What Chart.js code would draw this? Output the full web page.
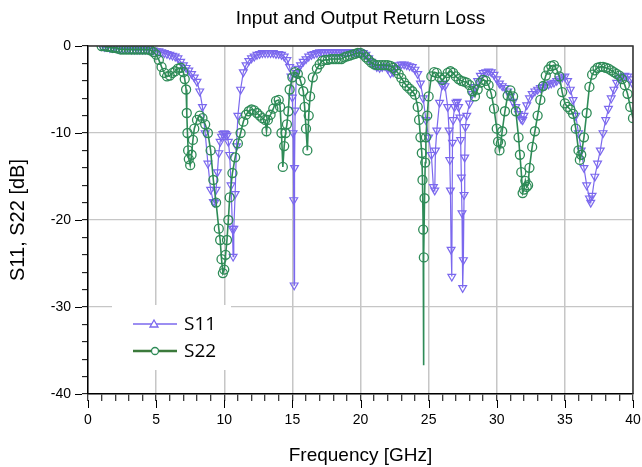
<!DOCTYPE html>
<html>
<head>
<meta charset="utf-8">
<script src="https://cdn.jsdelivr.net/npm/chart.js@4.4.1/dist/chart.umd.min.js"></script>
<style>
  html, body { margin: 0; padding: 0; background: #fff; }
  #wrap { width: 642px; height: 467px; }
</style>
</head>
<body>
<div id="wrap"><canvas id="chart1" width="642" height="467"></canvas></div>
<script>
// frequency [GHz] and return loss [dB]
const s11Freq = [
  1.0,1.2,1.4,1.6,1.8,2.0,2.2,2.4,2.6,2.8,
  3.0,3.2,3.4,3.6,3.8,4.0,4.2,4.4,4.6,4.8,
  5.0,5.2,5.4,5.6,5.8,6.0,6.2,6.4,6.6,6.8,
  7.0,7.2,7.4,7.6,7.8,8.0,8.2,8.4,8.6,8.8,
  9.0,9.2,9.3,9.4,9.5,9.6,9.7,9.8,9.9,10.0,
  10.1,10.2,10.3,10.4,10.5,10.6,10.65,10.7,10.8,10.9,
  11.0,11.2,11.4,11.6,11.8,12.0,12.2,12.4,12.6,12.8,
  13.0,13.2,13.4,13.6,13.8,14.0,14.2,14.4,14.6,14.8,
  14.9,15.0,15.05,15.1,15.13,15.16,15.2,15.3,15.4,15.6,
  15.8,16.0,16.2,16.4,16.6,16.8,17.0,17.2,17.4,17.6,
  17.8,18.0,18.2,18.4,18.6,18.8,19.0,19.2,19.4,19.6,
  19.8,20.0,20.2,20.4,20.6,20.8,21.0,21.2,21.4,21.6,
  21.8,22.0,22.2,22.4,22.6,22.8,23.0,23.2,23.4,23.6,
  23.8,24.0,24.2,24.4,24.6,24.8,25.0,25.2,25.35,25.45,
  25.5,25.6,25.8,26.0,26.1,26.2,26.4,26.5,26.55,26.6,
  26.65,26.7,26.75,26.8,26.9,27.0,27.1,27.2,27.3,27.35,
  27.4,27.45,27.5,27.55,27.6,27.65,27.7,27.8,28.0,28.2,
  28.4,28.6,28.8,29.0,29.2,29.4,29.6,29.8,30.0,30.2,
  30.4,30.6,30.8,31.0,31.2,31.4,31.6,31.8,31.9,32.0,
  32.2,32.4,32.6,32.8,33.0,33.2,33.4,33.6,33.8,34.0,
  34.2,34.4,34.6,34.8,35.0,35.2,35.4,35.6,35.8,36.0,
  36.2,36.4,36.6,36.8,36.9,37.0,37.2,37.4,37.6,37.8,
  38.0,38.2,38.4,38.6,38.8,39.0,39.2,39.4,39.6,39.8,
  40.0
];
const s11Db = [
  0,-0.1,-0.1,-0.2,-0.2,-0.2,-0.3,-0.3,-0.3,-0.3,
  -0.3,-0.4,-0.4,-0.4,-0.4,-0.4,-0.4,-0.4,-0.5,-0.5,
  -0.6,-0.6,-0.7,-0.8,-0.9,-1.0,-1.1,-1.2,-1.4,-1.8,
  -2.2,-2.5,-2.8,-3.2,-3.6,-4.1,-5.2,-7.0,-10.0,-13.5,
  -16.5,-17.9,-18.0,-16.5,-14.5,-12.3,-11.0,-10.4,-10.1,-10.0,
  -10.1,-10.3,-11.0,-12.5,-16.0,-21.0,-24.2,-21.0,-17.0,-11.5,
  -8.0,-5.0,-3.0,-2.2,-1.7,-1.4,-1.2,-1.0,-0.9,-0.8,
  -0.8,-0.8,-0.8,-0.8,-0.9,-0.9,-1.0,-1.2,-1.6,-2.4,
  -3.5,-5.9,-10.0,-17.7,-27.5,-14.0,-7.4,-3.1,-2.6,-2.2,
  -1.8,-1.5,-1.2,-1.0,-0.9,-0.8,-0.7,-0.7,-0.7,-0.7,
  -0.7,-0.7,-0.7,-0.7,-0.7,-0.7,-0.7,-0.7,-0.7,-0.7,
  -0.7,-0.7,-0.8,-1.0,-1.4,-1.8,-2.2,-2.4,-2.5,-2.4,
  -2.3,-2.6,-3.1,-3.0,-2.5,-2.2,-2.1,-2.1,-2.2,-2.3,
  -2.4,-2.7,-3.2,-4.3,-6.0,-8.5,-10.5,-12.5,-16.2,-16.6,
  -12.0,-9.7,-6.5,-4.5,-4.3,-4.6,-7.0,-9.7,-13.1,-16.6,
  -23.4,-26.5,-11.1,-8.5,-7.0,-6.5,-6.4,-7.0,-8.2,-10.8,
  -15.1,-19.2,-27.8,-24.6,-17.1,-12.8,-9.3,-8.0,-6.6,-5.5,
  -4.7,-4.0,-3.4,-3.1,-3.0,-2.9,-3.0,-3.3,-3.8,-4.3,
  -4.6,-4.8,-5.2,-5.8,-6.4,-7.0,-7.8,-8.4,-8.5,-8.0,
  -6.8,-6.0,-5.5,-5.2,-5.0,-4.8,-4.7,-4.5,-4.4,-4.3,
  -4.2,-4.0,-3.8,-3.6,-3.5,-4.0,-5.0,-6.2,-8.0,-10.0,
  -12.0,-14.0,-16.0,-17.5,-18.0,-17.2,-15.0,-13.5,-12.0,-10.0,
  -8.5,-7.2,-6.0,-5.0,-4.2,-3.7,-3.5,-3.4,-3.5,-3.8,
  -4.4
];

const s22Freq = [
  1.0,1.2,1.4,1.6,1.8,2.0,2.2,2.4,2.6,2.8,
  3.0,3.2,3.4,3.6,3.8,4.0,4.2,4.4,4.6,4.8,
  5.0,5.2,5.4,5.6,5.8,6.0,6.2,6.4,6.6,6.8,
  7.0,7.1,7.2,7.25,7.3,7.35,7.4,7.5,7.6,7.7,
  7.8,8.0,8.2,8.4,8.6,8.8,9.0,9.2,9.4,9.6,
  9.7,9.8,9.9,10.0,10.1,10.2,10.3,10.4,10.6,10.8,
  11.0,11.2,11.4,11.6,11.8,12.0,12.2,12.4,12.6,12.8,
  13.0,13.1,13.2,13.4,13.6,13.8,14.0,14.1,14.2,14.3,
  14.4,14.5,14.6,14.7,14.8,15.0,15.2,15.4,15.6,15.8,
  15.9,16.0,16.1,16.2,16.3,16.5,16.8,17.0,17.2,17.4,
  17.6,17.8,18.0,18.2,18.4,18.6,18.8,19.0,19.2,19.4,
  19.6,19.8,20.0,20.2,20.4,20.6,20.8,21.0,21.2,21.4,
  21.6,21.8,22.0,22.2,22.4,22.6,22.8,23.0,23.2,23.4,
  23.6,23.8,24.0,24.2,24.3,24.4,24.5,24.55,24.6,24.62,
  24.65,24.7,24.75,24.8,24.9,25.0,25.2,25.4,25.6,25.8,
  26.0,26.2,26.4,26.6,26.8,27.0,27.2,27.4,27.6,27.8,
  28.0,28.2,28.4,28.6,28.8,29.0,29.2,29.4,29.6,29.8,
  30.0,30.1,30.2,30.3,30.4,30.6,30.8,31.0,31.2,31.4,
  31.6,31.7,31.8,31.9,32.0,32.1,32.2,32.3,32.4,32.6,
  32.8,33.0,33.2,33.4,33.6,33.8,34.0,34.2,34.4,34.6,
  34.8,35.0,35.2,35.4,35.6,35.8,36.0,36.1,36.2,36.4,
  36.6,36.8,37.0,37.2,37.4,37.6,37.8,38.0,38.2,38.4,
  38.6,38.8,39.0,39.2,39.4,39.6,39.8,40.0
];
const s22Db = [
  0,0,-0.1,-0.1,-0.2,-0.2,-0.3,-0.4,-0.4,-0.4,
  -0.4,-0.4,-0.4,-0.4,-0.4,-0.4,-0.4,-0.4,-0.5,-0.7,
  -1.0,-1.6,-2.4,-3.1,-3.5,-3.4,-3.1,-2.9,-2.6,-2.5,
  -3.0,-3.8,-5.0,-7.7,-10.0,-12.0,-13.0,-13.7,-12.5,-10.8,
  -9.5,-8.5,-8.0,-8.3,-9.0,-10.0,-12.0,-15.4,-18.0,-21.0,
  -22.3,-24.5,-26.1,-25.7,-24.0,-22.3,-20.0,-17.4,-14.6,-12.8,
  -11.2,-10.0,-8.7,-7.9,-7.5,-7.3,-7.4,-7.7,-8.0,-8.3,
  -8.5,-9.8,-8.5,-7.9,-7.2,-6.3,-6.2,-7.0,-10.0,-13.9,
  -11.5,-10.0,-9.0,-7.5,-5.0,-3.6,-3.0,-3.2,-4.0,-5.2,
  -7.0,-9.5,-12.0,-8.0,-5.8,-3.6,-2.6,-2.1,-1.7,-1.6,
  -1.6,-1.5,-1.5,-1.5,-1.5,-1.5,-1.3,-1.2,-1.1,-1.0,
  -0.9,-0.8,-0.8,-1.0,-1.3,-1.6,-1.9,-2.1,-2.2,-2.2,
  -2.2,-2.2,-2.2,-2.3,-2.5,-2.8,-3.2,-3.7,-4.2,-4.6,
  -4.9,-5.2,-5.6,-7.0,-8.5,-10.5,-12.3,-15.4,-21.1,-36.7,
  -24.3,-17.5,-13.4,-10.5,-8.0,-5.8,-3.5,-3.0,-3.1,-3.6,
  -3.9,-3.6,-3.1,-2.9,-3.1,-3.5,-3.8,-4.0,-4.1,-4.2,
  -4.5,-5.2,-5.8,-5.0,-4.2,-3.9,-4.0,-4.5,-5.5,-7.2,
  -9.5,-11.0,-12.0,-11.2,-9.8,-7.5,-5.7,-5.1,-5.8,-7.5,
  -10.5,-12.5,-14.5,-16.9,-16.5,-15.5,-16.2,-16.0,-14.0,-11.6,
  -9.8,-8.0,-6.2,-4.6,-3.4,-2.7,-2.3,-2.2,-2.7,-3.5,
  -5.3,-6.6,-7.0,-7.3,-7.8,-9.5,-12.0,-13.1,-12.5,-10.5,
  -7.7,-4.7,-3.3,-2.8,-2.5,-2.4,-2.4,-2.5,-2.6,-2.8,
  -3.0,-3.2,-3.4,-3.8,-4.5,-5.5,-7.0,-8.3
];

const seriesNames = ["S11", "S22"];
const chartTitle = "Input and Output Return Loss";
const xTitle = "Frequency [GHz]";
const yTitle = "S11, S22 [dB]";

const PURPLE = "#7b68ee";
const GREEN = "#2e8b57";
const LEGEND_GREEN = "#3b7a3b";
const GRID = "#c6c6c6";
const FONT = "'Liberation Sans', Arial, sans-serif";

let toPoints = (fs, vs) => fs.map((f, i) => ({ x: f, y: vs[i] }));

// title over the plot area, frame, long major ticks and the inside legend
const decor = {
  id: "decor",
  afterDraw(chart) {
    const ctx = chart.ctx;
    const a = chart.chartArea;
    const xs = chart.scales.x;
    const ys = chart.scales.y;
    ctx.save();
    // title
    ctx.fillStyle = "#000";
    ctx.font = "19px " + FONT;
    ctx.textAlign = "center";
    ctx.textBaseline = "middle";
    ctx.fillText(chartTitle, (a.left + a.right) / 2, 19);
    // top and right frame
    ctx.strokeStyle = "#333";
    ctx.lineWidth = 1.5;
    ctx.beginPath();
    ctx.moveTo(a.left, a.top);
    ctx.lineTo(a.right, a.top);
    ctx.lineTo(a.right, a.bottom);
    ctx.stroke();
    // longer major ticks
    ctx.strokeStyle = "#000";
    ctx.lineWidth = 1;
    ctx.beginPath();
    for (let v = 0; v <= 40; v += 5) {
      const px = Math.round(xs.getPixelForValue(v)) + 0.5;
      ctx.moveTo(px, a.bottom + 6);
      ctx.lineTo(px, a.bottom + 14);
    }
    for (let v = -40; v <= 0; v += 10) {
      const py = Math.round(ys.getPixelForValue(v)) + 0.5;
      ctx.moveTo(a.left - 6, py);
      ctx.lineTo(a.left - 13, py);
    }
    ctx.stroke();
    // legend box
    const lx = a.left + 24, ly = a.top + 259;
    ctx.fillStyle = "#fff";
    ctx.fillRect(lx, ly, 119, 65);
    const rows = [
      { name: seriesNames[0], color: PURPLE, width: 1.5, y: ly + 19 },
      { name: seriesNames[1], color: LEGEND_GREEN, width: 2.5, y: ly + 46 }
    ];
    rows.forEach((r, i) => {
      ctx.strokeStyle = r.color;
      ctx.lineWidth = r.width;
      ctx.beginPath();
      ctx.moveTo(lx + 21, r.y);
      ctx.lineTo(lx + 65, r.y);
      ctx.stroke();
      ctx.lineWidth = 1.3;
      ctx.strokeStyle = i === 0 ? PURPLE : GREEN;
      ctx.fillStyle = "#fff";
      ctx.beginPath();
      if (i === 0) {
        ctx.moveTo(lx + 42, r.y - 4);
        ctx.lineTo(lx + 46, r.y + 3);
        ctx.lineTo(lx + 38, r.y + 3);
        ctx.closePath();
      } else {
        ctx.arc(lx + 43, r.y, 3.5, 0, Math.PI * 2);
      }
      ctx.fill();
      ctx.stroke();
      ctx.fillStyle = "#000";
      ctx.font = "19px 'Open Sans', 'Noto Sans', sans-serif";
      ctx.textAlign = "left";
      ctx.textBaseline = "middle";
      ctx.fillText(r.name, lx + 72, r.y + 1);
    });
    ctx.restore();
  }
};

const ctx = document.getElementById("chart1");
const config = {
  type: "line",
  data: {
    datasets: [
      {
        label: seriesNames[0],
        data: toPoints(s11Freq, s11Db),
        borderColor: PURPLE,
        borderWidth: 1.2,
        pointStyle: "triangle",
        rotation: 180,
        pointRadius: 4.5,
        pointBorderWidth: 1.2,
        pointBorderColor: PURPLE,
        pointBackgroundColor: "rgba(0,0,0,0)",
        tension: 0,
        order: 2
      },
      {
        label: seriesNames[1],
        data: toPoints(s22Freq, s22Db),
        borderColor: GREEN,
        borderWidth: 1.6,
        pointStyle: "circle",
        // the deepest sample of the notch carries no marker in the original
        pointRadius: (c) => (c.raw && c.raw.y < -35 ? 0 : 4.5),
        pointBorderWidth: 1.3,
        pointBorderColor: GREEN,
        pointBackgroundColor: "rgba(0,0,0,0)",
        tension: 0,
        order: 1
      }
    ]
  },
  options: {
    responsive: false,
    animation: false,
    devicePixelRatio: 1,
    layout: { padding: { left: 0, right: 0, top: 46, bottom: 0 } },
    plugins: {
      legend: { display: false },
      title: { display: false },
      tooltip: { enabled: false }
    },
    scales: {
      x: {
        type: "linear",
        min: 0,
        max: 40,
        afterFit: (s) => {
          s.height = 73;
          s.paddingLeft = 0;
          s.paddingRight = 9;
        },
        ticks: {
          stepSize: 1,
          autoSkip: false,
          maxRotation: 0,
          padding: 11,
          color: "#000",
          font: { family: FONT, size: 14 },
          callback: (v) => (v % 5 === 0 ? String(v) : "")
        },
        grid: {
          color: (c) => (c.tick && c.tick.value % 5 === 0 ? GRID : "rgba(0,0,0,0)"),
          lineWidth: 1.5,
          tickColor: "#000",
          tickLength: 7,
          tickWidth: 1
        },
        border: { color: "#000", width: 1.5 },
        title: {
          display: true,
          text: xTitle,
          color: "#000",
          font: { family: FONT, size: 19 },
          padding: { top: 0, bottom: 0 }
        }
      },
      y: {
        min: -40,
        max: 0,
        afterFit: (s) => { s.width = 88; },
        ticks: {
          stepSize: 2,
          autoSkip: false,
          padding: 11,
          color: "#000",
          font: { family: FONT, size: 14 },
          callback: (v) => (v % 10 === 0 ? String(v) : "")
        },
        grid: {
          color: (c) => (c.tick && c.tick.value % 10 === 0 ? GRID : "rgba(0,0,0,0)"),
          lineWidth: 1.3,
          tickColor: "#000",
          tickLength: 6,
          tickWidth: 1
        },
        border: { color: "#000", width: 1.5 },
        title: {
          display: true,
          text: yTitle,
          color: "#000",
          font: { family: FONT, size: 20 },
          padding: { top: 6, bottom: 0 }
        }
      }
    }
  },
  plugins: [decor]
};
const chart = new Chart(ctx, config);
</script>
</body>
</html>
